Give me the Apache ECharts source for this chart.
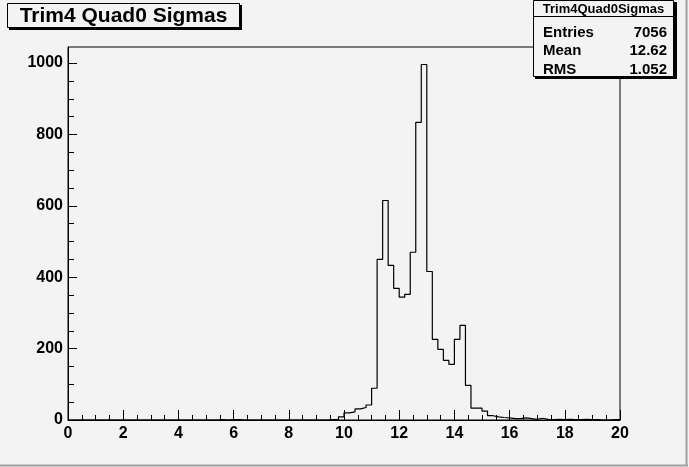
<!DOCTYPE html>
<html>
<head>
<meta charset="utf-8">
<script src="https://cdn.jsdelivr.net/npm/echarts@6/dist/echarts.min.js"></script>
<style>
html,body{margin:0;padding:0;background:#f3f3f3;}
#c{width:689px;height:467px;}
</style>
</head>
<body>
<div id="c"></div>
<script>
// Histogram: 100 bins of width 0.2 from 0 to 20
const xMin = 0;
const xMax = 20;
const binWidth = 0.2;
const counts = [
  0,0,0,0,0,0,0,0,0,0,
  0,0,0,0,0,0,0,0,0,0,
  0,0,0,0,0,0,0,1,0,1,
  1,0,0,0,0,0,0,0,0,0,
  0,0,0,0,0,0,0,1,2,9,
  20,23,31,35,42,89,450,615,433,369,
  344,352,470,834,996,416,226,198,167,156,
  226,265,97,33,33,25,12,9,7,6,
  4,4,6,4,2,5,2,1,2,1,
  2,1,1,2,1,1,0,0,1,1
];
const xTicks = [0,2,4,6,8,10,12,14,16,18,20];
const yMajorTicks = [0,200,400,600,800,1000];
const yMinorTicks = [50,100,150,250,300,350,450,500,550,650,700,750,850,900,950,1000];
const yMax = 1045;
const histTitle = 'Trim4 Quad0 Sigmas';
const statsName = 'Trim4Quad0Sigmas';
const statsLabels = ['Entries','Mean','RMS'];
const statsValues = ['7056','12.62','1.052'];

const stepData = counts.map((v,i)=>[xMin + i*binWidth, v]);
stepData.push([xMax, counts[counts.length-1]]);

const font = 'Liberation Sans, Arial, Helvetica, sans-serif';
const chart = echarts.init(document.getElementById('c'), null, {renderer:'canvas'});

const statRows = [];
statsLabels.forEach((lab,i)=>{
  const y = 32.5 + i*18.5;
  statRows.push({type:'text', z:102, style:{text:lab, x:543, y:y, fill:'#000', font:'bold 15px '+font, align:'left', verticalAlign:'middle'}});
  statRows.push({type:'text', z:102, style:{text:statsValues[i], x:667, y:y, fill:'#000', font:'bold 15px '+font, align:'right', verticalAlign:'middle'}});
});

chart.setOption({
  backgroundColor:'#f3f3f3',
  animation:false,
  grid:{left:68, right:69, top:47, bottom:47, show:true, borderColor:'#000', borderWidth:1, backgroundColor:'transparent', containLabel:false},
  xAxis:{
    type:'value', min:xMin, max:xMax, interval:2,
    axisLine:{show:true, onZero:false, lineStyle:{color:'#000', width:1}},
    axisTick:{show:true, inside:true, length:10, lineStyle:{color:'#000'}},
    minorTick:{show:true, splitNumber:4, length:5, lineStyle:{color:'#000'}},
    splitLine:{show:false},
    axisLabel:{color:'#000', fontSize:16, fontWeight:'bold', fontFamily:font, margin:6, formatter:(v)=>String(v)}
  },
  yAxis:[{
    type:'value', min:0, max:yMax,
    axisLine:{show:true, lineStyle:{color:'#000', width:1}},
    axisTick:{show:true, inside:true, length:9, customValues:yMajorTicks, lineStyle:{color:'#000'}},
    splitLine:{show:false},
    axisLabel:{color:'#000', fontSize:16, fontWeight:'bold', fontFamily:font, margin:5, customValues:yMajorTicks, formatter:(v)=>String(v)}
  },{
    type:'value', min:0, max:yMax, position:'left',
    axisLine:{show:false},
    axisTick:{show:true, inside:true, length:6, customValues:yMinorTicks, lineStyle:{color:'#000'}},
    splitLine:{show:false},
    axisLabel:{show:false}
  }],
  series:[{
    type:'line', step:'end', data:stepData, symbol:'none', showSymbol:false,
    lineStyle:{color:'#000', width:1.2}, xAxisIndex:0, yAxisIndex:0, z:5
  }],
  graphic:[
    // canvas bevel
    {type:'line', z:90, shape:{x1:686.5, y1:0, x2:686.5, y2:466}, style:{stroke:'#a0a0a0', lineWidth:2}},
    {type:'line', z:90, shape:{x1:0, y1:465.5, x2:688, y2:465.5}, style:{stroke:'#a0a0a0', lineWidth:2}},
    // title box
    {type:'rect', z:100, shape:{x:9, y:5, width:233, height:25}, style:{fill:'#000'}},
    {type:'rect', z:101, shape:{x:7.5, y:3.5, width:232, height:24}, style:{fill:'#f3f3f3', stroke:'#000', lineWidth:1}},
    {type:'text', z:102, style:{text:histTitle, x:123.5, y:16, fill:'#000', font:'bold 21px '+font, align:'center', verticalAlign:'middle'}},
    // stats box
    {type:'rect', z:100, shape:{x:535, y:2, width:142, height:77}, style:{fill:'#000'}},
    {type:'rect', z:101, shape:{x:533.5, y:0.5, width:140, height:76}, style:{fill:'#f3f3f3', stroke:'#000', lineWidth:1}},
    {type:'line', z:102, shape:{x1:533.5, y1:16.5, x2:673.5, y2:16.5}, style:{stroke:'#000', lineWidth:1}},
    {type:'text', z:102, style:{text:statsName, x:603.5, y:9, fill:'#000', font:'bold 13px '+font, align:'center', verticalAlign:'middle'}}
  ].concat(statRows)
});
</script>
</body>
</html>
